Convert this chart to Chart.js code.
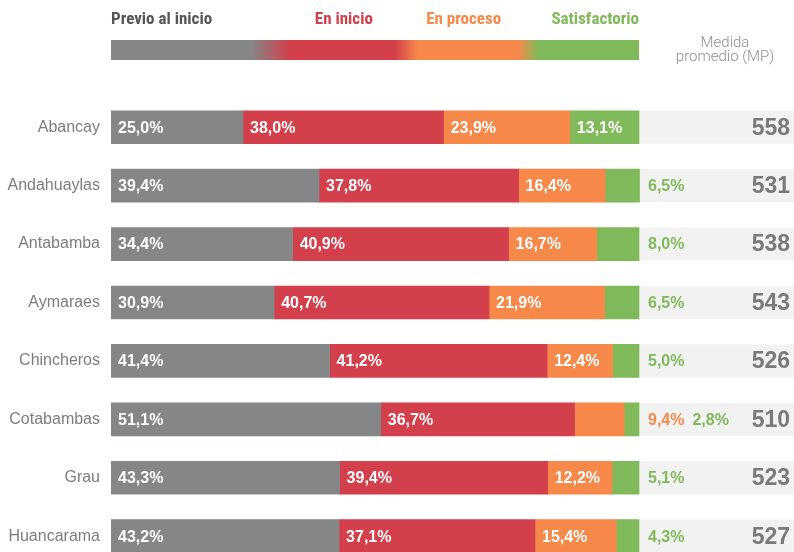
<!DOCTYPE html>
<html><head><meta charset="utf-8">
<script src="https://cdn.jsdelivr.net/npm/chart.js@4.4.1/dist/chart.umd.min.js"></script>
<style>
html,body{margin:0;padding:0;background:#fff;overflow:hidden;width:794px;height:552px;}
#wrap{position:absolute;left:0;top:0;width:794px;height:578px;}
</style></head>
<body>
<div id="wrap"><canvas id="c" width="794" height="578"></canvas></div>
<script>
const categories = ["Abancay","Andahuaylas","Antabamba","Aymaraes","Chincheros","Cotabambas","Grau","Huancarama"];
const previo = [25.0,39.4,34.4,30.9,41.4,51.1,43.3,43.2];
const enInicio = [38.0,37.8,40.9,40.7,41.2,36.7,39.4,37.1];
const enProceso = [23.9,16.4,16.7,21.9,12.4,9.4,12.2,15.4];
const satisfactorio = [13.1,6.5,8.0,6.5,5.0,2.8,5.1,4.3];
const medidaPromedio = [558,531,538,543,526,510,523,527];
const seriesNames = ["Previo al inicio","En inicio","En proceso","Satisfactorio"];
const colors = ["#858688","#d33f4b","#f6894a","#80b95a"];

function fmt(v){ return v.toFixed(1).replace('.',',') + '%'; }
const valFont = 'bold 16px "Liberation Sans", Arial, sans-serif';

const plugin = {
  id:'custom',
  beforeDatasetsDraw(chart){
    const ctx = chart.ctx, area = chart.chartArea;
    const meta = chart.getDatasetMeta(0);
    ctx.save();
    ctx.fillStyle = '#f2f2f2';
    meta.data.forEach(el=>{
      const h = el.height;
      ctx.fillRect(area.left, el.y - h/2, area.right - area.left, h);
    });
    ctx.restore();
  },
  afterDatasetsDraw(chart){
    const ctx = chart.ctx, xs = chart.scales.x;
    ctx.save();
    ctx.textBaseline = 'middle';
    ctx.font = valFont;
    const x100 = xs.getPixelForValue(100);
    categories.forEach((c,i)=>{
      let outX = x100 + 9;
      chart.data.datasets.forEach((ds,di)=>{
        const el = chart.getDatasetMeta(di).data[i];
        const v = ds.data[i];
        ctx.textAlign = 'left';
        if (v >= 10){
          ctx.fillStyle = '#ffffff';
          ctx.fillText(fmt(v), Math.min(el.base, el.x) + 7, el.y + 1);
        } else {
          ctx.fillStyle = colors[di];
          ctx.fillText(fmt(v), outX, el.y + 1);
          outX += ctx.measureText(fmt(v)).width + 8;
        }
      });
      const el0 = chart.getDatasetMeta(0).data[i];
      ctx.fillStyle = '#7a7a7b';
      ctx.textAlign = 'right';
      ctx.font = 'bold 23px "Liberation Sans", Arial, sans-serif';
      ctx.fillText(String(medidaPromedio[i]), 790, el0.y + 1);
      ctx.font = valFont;
    });
    // header legend
    const x0 = xs.getPixelForValue(0);
    const w = x100 - x0;
    const g = ctx.createLinearGradient(x0,0,x100,0);
    g.addColorStop(0, colors[0]);
    g.addColorStop(0.265, colors[0]);
    g.addColorStop(0.341, colors[1]);
    g.addColorStop(0.538, colors[1]);
    g.addColorStop(0.581, colors[2]);
    g.addColorStop(0.771, colors[2]);
    g.addColorStop(0.809, colors[3]);
    g.addColorStop(1, colors[3]);
    ctx.fillStyle = g;
    ctx.fillRect(x0, 40, w, 20);
    ctx.font = 'bold 17px "Liberation Sans Narrow", "Roboto Condensed", "Liberation Sans", sans-serif';
    ctx.textBaseline = 'middle';
    ctx.textAlign = 'left';
    ctx.fillStyle = '#555657';
    ctx.fillText(seriesNames[0], x0, 20);
    ctx.fillStyle = colors[1];
    ctx.fillText(seriesNames[1], xs.getPixelForValue(38.6), 20);
    ctx.fillStyle = colors[2];
    ctx.fillText(seriesNames[2], xs.getPixelForValue(59.7), 20);
    ctx.fillStyle = colors[3];
    ctx.textAlign = 'right';
    ctx.fillText(seriesNames[3], x100, 20);
    ctx.font = '300 15px Roboto, "Liberation Sans", sans-serif';
    ctx.fillStyle = '#8f8f8f';
    ctx.textAlign = 'center';
    ctx.fillText('Medida', 725, 43);
    ctx.fillText('promedio (MP)', 725, 57);
    ctx.restore();
  }
};

new Chart(document.getElementById('c'), {
  type:'bar',
  data:{
    labels: categories,
    datasets:[previo,enInicio,enProceso,satisfactorio].map((d,i)=>({
      label: seriesNames[i], data: d, backgroundColor: colors[i], borderWidth:0, barThickness:33
    }))
  },
  options:{
    indexAxis:'y',
    responsive:false,
    animation:false,
    layout:{padding:{top:98,bottom:6,left:0,right:0}},
    plugins:{legend:{display:false},tooltip:{enabled:false}},
    scales:{
      x:{stacked:true,min:0,max:100*683/528,display:false},
      y:{stacked:true,
         grid:{display:false},border:{display:false},
         ticks:{color:'#7d7d7e',font:{size:16,family:'"Liberation Sans", Arial, sans-serif'},padding:3},
         afterFit(s){ s.width = 111; }
      }
    }
  },
  plugins:[plugin]
});
</script>
</body></html>
